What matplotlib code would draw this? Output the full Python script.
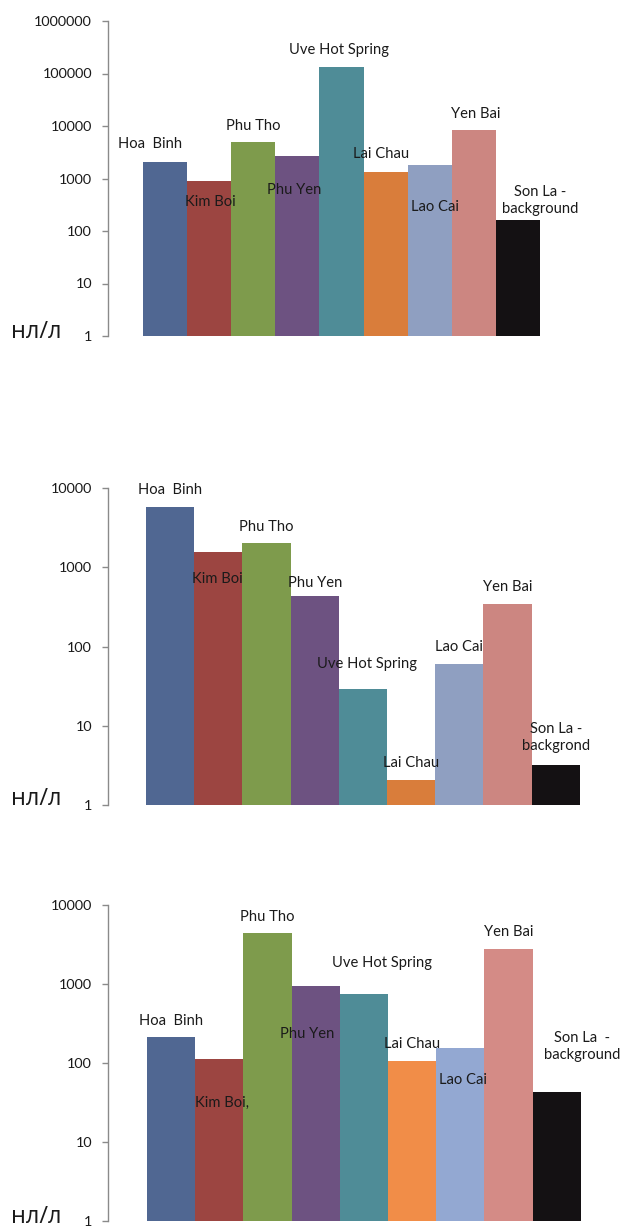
import matplotlib
matplotlib.use("Agg")
import matplotlib.pyplot as plt
import numpy as np

# ---- data -------------------------------------------------------------
sites_a = ["Hoa  Binh", "Kim Boi", "Phu Tho", "Phu Yen", "Uve Hot Spring",
           "Lai Chau", "Lao Cai", "Yen Bai", "Son La -\nbackground"]
sites_b = ["Hoa  Binh", "Kim Boi", "Phu Tho", "Phu Yen", "Uve Hot Spring",
           "Lai Chau", "Lao Cai", "Yen Bai", "Son La -\nbackgrond"]
sites_c = ["Hoa  Binh", "Kim Boi,", "Phu Tho", "Phu Yen", "Uve Hot Spring",
           "Lai Chau", "Lao Cai", "Yen Bai", "Son La  -\nbackground"]

values_a = [2100, 910, 5000, 2640, 135000, 1350, 1810, 8500, 161]
values_b = [5750, 1560, 2000, 432, 29, 2.07, 61, 345, 3.2]
values_c = [211, 114, 4380, 950, 740, 107, 155, 2800, 43]

ticks_a = [1, 10, 100, 1000, 10000, 100000, 1000000]
ticks_bc = [1, 10, 100, 1000, 10000]
unit_label = "нл/л"

# ---- styling ----------------------------------------------------------
colors_ab = ["#506792", "#9C4541", "#7E9B4C", "#6D5281", "#4F8C97",
             "#D97D3B", "#8F9FC1", "#CC8681", "#141113"]
colors_c = ["#506792", "#9C4541", "#7E9B4C", "#6D5281", "#4F8C97",
            "#F18D48", "#93A8D2", "#D48B86", "#141113"]

# label anchors: (offset from bar centre in bar widths, log10 height)
lab_a = [(-0.34, 3.65), (0.02, 2.56), (0.0, 4.0), (-0.07, 2.79),
         (-0.05, 5.45), (-0.1, 3.47), (0.12, 2.45), (0.05, 4.23), (0.5, 2.58)]
lab_b = [(0.0, 3.97), (-0.01, 2.85), (-0.01, 3.51), (0.0, 2.80),
         (0.08, 1.78), (0.0, 0.53), (0.0, 1.99), (0.01, 2.75), (0.0, 0.85)]
lab_c = [(-0.01, 2.53), (0.06, 1.50), (-0.01, 3.85), (-0.17, 2.37),
         (0.37, 3.27), (0.0, 2.24), (0.06, 1.78), (0.01, 3.66), (0.52, 2.21)]

W, H = 621, 1227
FONT = "Lato"
plt.rcParams["font.family"] = [FONT, "DejaVu Sans"]

fig = plt.figure(figsize=(W / 100, H / 100), dpi=100)

# panel geometry in pixels: axis x, bar left, bar unit, y of top tick, y of bottom tick,
# baseline of the unit caption
panels = [
    dict(names=sites_a, vals=values_a, ticks=ticks_a, cols=colors_ab, labs=lab_a,
         ax_x=108, bar_left=143, unit=44.1, y_top=21, y_bot=336, cap_y=338),
    dict(names=sites_b, vals=values_b, ticks=ticks_bc, cols=colors_ab, labs=lab_b,
         ax_x=108, bar_left=146, unit=48.2, y_top=488, y_bot=805, cap_y=805),
    dict(names=sites_c, vals=values_c, ticks=ticks_bc, cols=colors_c, labs=lab_c,
         ax_x=108, bar_left=147, unit=48.2, y_top=905, y_bot=1221, cap_y=1223),
]

right_px = 615
for p in panels:
    left = p["ax_x"] / W
    width = (right_px - p["ax_x"]) / W
    bottom = (H - p["y_bot"]) / H
    height = (p["y_bot"] - p["y_top"]) / H
    ax = fig.add_axes([left, bottom, width, height])
    ax.set_yscale("log")
    ax.set_ylim(p["ticks"][0], p["ticks"][-1])
    x0 = -0.5 - (p["bar_left"] - p["ax_x"]) / p["unit"]
    ax.set_xlim(x0, x0 + (right_px - p["ax_x"]) / p["unit"])

    xs = np.arange(len(p["vals"]))
    ax.bar(xs, p["vals"], width=1.0, color=p["cols"], bottom=0, linewidth=0)

    for i, (name, (dx, ly)) in enumerate(zip(p["names"], p["labs"])):
        ax.text(i + dx, 10 ** ly, name, ha="center", va="center",
                fontsize=10.6, color="#1a1a1a", linespacing=1.3)

    for s in ["top", "right", "bottom"]:
        ax.spines[s].set_visible(False)
    ax.spines["left"].set_color("#8a8a8a")
    ax.spines["left"].set_linewidth(1.0)
    ax.set_yticks(p["ticks"])
    ax.set_yticklabels([str(t) for t in p["ticks"]])
    ax.yaxis.set_minor_locator(matplotlib.ticker.NullLocator())
    ax.tick_params(axis="y", length=4, width=1.0, color="#8a8a8a",
                   labelsize=10.4, pad=7.5, labelcolor="#1a1a1a")
    ax.tick_params(axis="x", bottom=False, labelbottom=False)
    ax.patch.set_alpha(0)

    fig.text(11 / W, 1 - p["cap_y"] / H, unit_label, ha="left", va="baseline",
             fontsize=17, family=["Open Sans", "DejaVu Sans"], color="#1a1a1a")

fig.savefig("out.png", dpi=100)
